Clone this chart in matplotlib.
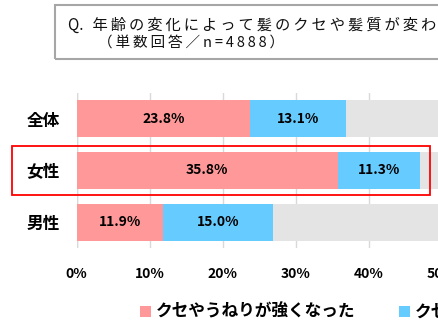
import matplotlib
matplotlib.use("Agg")
import matplotlib.pyplot as plt
from matplotlib.patches import Rectangle

plt.rcParams['font.family'] = ['Noto Sans CJK JP', 'DejaVu Sans']

# Survey data
groups = ["全体", "女性", "男性"]
stronger = [23.8, 35.8, 11.9]
weaker = [13.1, 11.3, 15.0]
unchanged = [63.1, 52.9, 73.1]
series_names = ["クセやうねりが強くなった", "クセやうねりが弱くなった", "変わらない"]
xticks = [0, 10, 20, 30, 40, 50]

question = "年齢の変化によって髪のクセや髪質が変わったと感じますか？"
base_note = "（単数回答／n=4888）"

colors = ["#FF9999", "#66CCFF", "#E4E4E4"]

W, H = 438, 328
fig = plt.figure(figsize=(W / 100, H / 100), dpi=100)

# plot area runs off the right edge of the canvas (0-100%)
ax = fig.add_axes([76.5 / W, 1 - 248 / H, 730 / W, 155 / H])

y = list(range(len(groups)))
left = [0] * len(groups)
for i, (vals, c, name) in enumerate(zip([stronger, weaker, unchanged], colors, series_names)):
    bars = ax.barh(y, vals, left=left, height=0.71, color=c, label=name, zorder=3)
    if i < 2:
        for b, v in zip(bars, vals):
            ax.text(b.get_x() + b.get_width() / 2, b.get_y() + b.get_height() / 2,
                    f"{v:.1f}%", ha="center", va="center", fontsize=10,
                    fontweight="bold", color="black", zorder=4)
    left = [l + v for l, v in zip(left, vals)]

ax.set_xlim(0, 100)
ax.set_ylim(2.5, -0.5)
ax.set_xticks(xticks)
ax.set_xticklabels([f"{t}%" for t in xticks], fontsize=10, fontweight="bold")
ax.set_yticks(y)
ax.set_yticklabels(groups, fontsize=12, fontweight="bold")
ax.tick_params(axis="x", length=0, pad=14)
ax.tick_params(axis="y", length=0, pad=12)
ax.grid(axis="x", color="#D9D9D9", linewidth=1, zorder=0)
ax.axvline(0, color="#D9D9D9", linewidth=1, zorder=1)
for s in ax.spines.values():
    s.set_visible(False)

# highlight frame around the female row
fig.patches.append(Rectangle((12 / W, 1 - 195 / H), 418 / W, 49 / H,
                             transform=fig.transFigure, fill=False,
                             edgecolor="#FF0000", linewidth=1.3))

# question box, wide-spaced text
spaced = "\u2009".join(question)
fig.patches.append(Rectangle((55 / W, 1 - 59 / H), 500 / W, 54 / H,
                             transform=fig.transFigure, fill=False,
                             edgecolor="#A6A6A6", linewidth=1.5))
fig.text(68 / W, 1 - 25 / H, "Q.\u2009\u2009\u2009" + spaced,
         fontsize=11, va="center", ha="left", color="#111111")
fig.text(98 / W, 1 - 43 / H, "\u2009".join(base_note),
         fontsize=10.5, va="center", ha="left", color="#111111")

handles, labels = ax.get_legend_handles_labels()
fig.legend(handles, labels, loc="center left", bbox_to_anchor=(125 / W, 1 - 312 / H),
           ncol=3, frameon=False, prop={"weight": "bold", "size": 12},
           handlelength=0.65, handleheight=0.65, handletextpad=0.3, columnspacing=2.6)

fig.savefig("out.png", dpi=100)
